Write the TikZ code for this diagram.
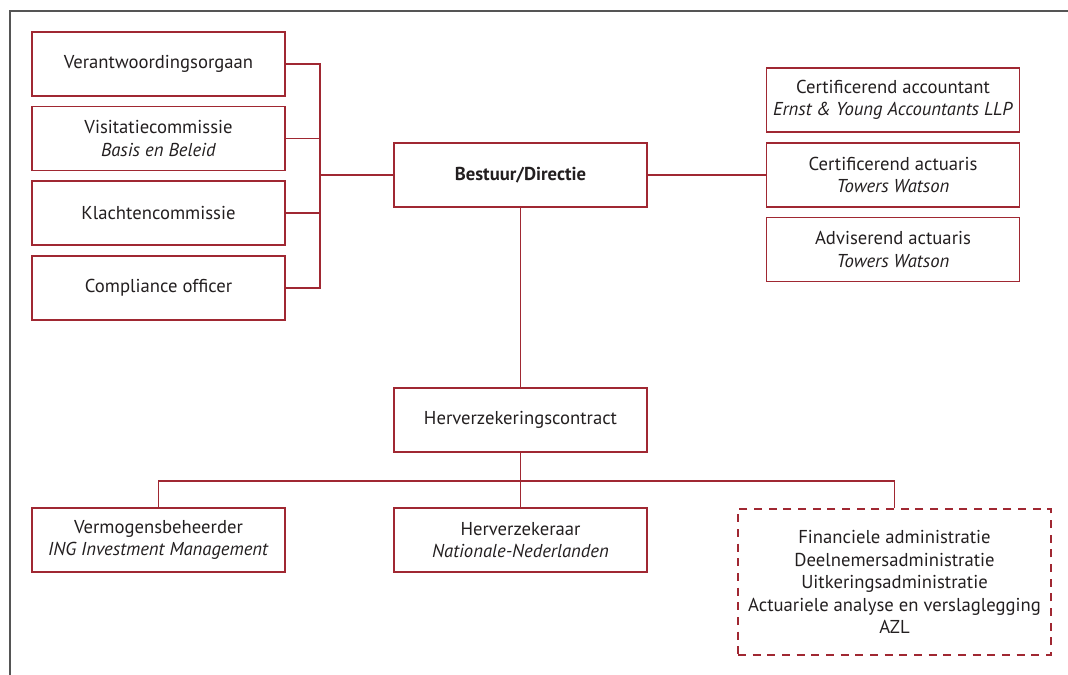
\documentclass[tikz,border=0pt]{standalone}
\usepackage{fontspec}
\setmainfont{PT Sans}
\definecolor{lred}{RGB}{160,40,50}
\definecolor{txt}{RGB}{35,31,32}
\definecolor{frame}{RGB}{85,85,85}
\begin{document}
\begin{tikzpicture}[x=0.75pt,y=-0.75pt,
  font=\fontsize{14pt}{16.8pt}\selectfont,
  box/.style={draw=lred, line width=0.9pt, text=txt, align=center, inner sep=0pt, minimum width=189.75pt, minimum height=48pt},
  dbox/.style={box, dashed, dash pattern=on 6pt off 5pt, minimum width=234.75pt, minimum height=109.5pt},
  link/.style={draw=lred, line width=0.9pt}]
\useasboundingbox (0,0) rectangle (1068,675);
\draw[frame, line width=1.2pt] (10,675) -- (10,11) -- (1068,11);
% left column
\node[box] (v1) at (158.5,64) {Verantwoordingsorgaan};
\node[box] (v2) at (158.5,138.5) {Visitatiecommissie\\\textit{Basis en Beleid}};
\node[box] (v3) at (158.5,213) {Klachtencommissie};
\node[box] (v4) at (158.5,288) {Compliance officer};
% centre
\node[box] (bd) at (520.5,175) {\textbf{Bestuur/Directie}};
% right column
\node[box] (r1) at (893,100) {Certificerend accountant\\\textit{Ernst \& Young Accountants LLP}};
\node[box] (r2) at (893,175) {Certificerend actuaris\\\textit{Towers Watson}};
\node[box] (r3) at (893,249.5) {Adviserend actuaris\\\textit{Towers Watson}};
% lower
\node[box] (hc) at (520.5,420) {Herverzekeringscontract};
\node[box] (vm) at (158.5,540) {Vermogensbeheerder\\\textit{ING Investment Management}};
\node[box] (hz) at (520.5,540) {Herverzekeraar\\\textit{Nationale-Nederlanden}};
\node[dbox] (az) at (894.5,582) {Financiele administratie\\Deelnemersadministratie\\Uitkeringsadministratie\\Actuariele analyse en verslaglegging\\AZL};
% connectors
\coordinate (lb) at (320,175);
\coordinate (hb) at (520.5,481);
\path[link] (v1.east) -| (lb);
\path[link] (v2.east) -| (lb);
\path[link] (v3.east) -| (lb);
\path[link] (v4.east) -| (lb);
\path[link] (lb) -- (bd.west);
\path[link] (bd.east) -- (r2.west);
\path[link] (bd.south) -- (hc.north);
\path[link] (hc.south) -- (hz.north);
\path[link] (vm.north) |- (hb);
\path[link] (az.north) |- (hb);
\end{tikzpicture}
\end{document}
